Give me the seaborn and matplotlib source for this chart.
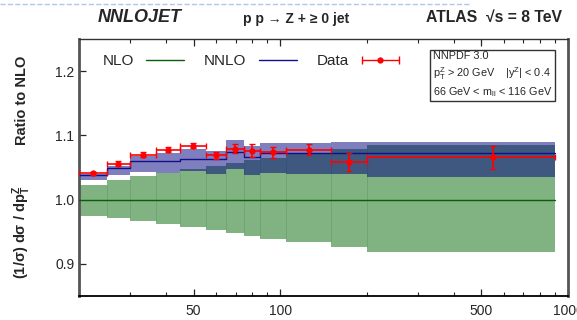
import numpy as np
import pandas as pd
import seaborn as sns
import matplotlib
matplotlib.use("Agg")
import matplotlib.pyplot as plt
from matplotlib.lines import Line2D
from matplotlib.legend_handler import HandlerErrorbar

# ===== data =====
bin_edges = [20, 25, 30, 37, 45, 55, 65, 75, 85, 105, 150, 200, 900]
nlo_central = [1.0] * 12
nlo_low = [0.975, 0.971, 0.966, 0.962, 0.957, 0.952, 0.948, 0.944, 0.939, 0.934, 0.926, 0.918]
nlo_high = [1.023, 1.031, 1.037, 1.041, 1.048, 1.053, 1.057, 1.061, 1.065, 1.072, 1.079, 1.085]
nnlo_central = [1.038, 1.050, 1.060, 1.060, 1.064, 1.063, 1.074, 1.066, 1.073, 1.072, 1.073, 1.072]
nnlo_low = [1.031, 1.039, 1.043, 1.041, 1.044, 1.040, 1.047, 1.039, 1.041, 1.040, 1.040, 1.036]
nnlo_high = [1.040, 1.052, 1.068, 1.072, 1.079, 1.076, 1.093, 1.083, 1.088, 1.088, 1.089, 1.089]
data_pt = [22.4, 27.4, 33.3, 40.9, 49.7, 60.0, 69.8, 79.8, 94.6, 125.5, 173.2, 550]
data_ratio = [1.041, 1.056, 1.070, 1.078, 1.084, 1.069, 1.079, 1.076, 1.0735, 1.078, 1.0585, 1.066]
data_err = [0.0026, 0.004, 0.004, 0.004, 0.004, 0.0057, 0.007, 0.010, 0.008, 0.0085, 0.0137, 0.018]
x_ticks = [50, 100, 500, 1000]
y_ticks = [0.9, 1.0, 1.1, 1.2]

sns.set_style("ticks")
plt.rcParams['font.family'] = ['Liberation Sans', 'DejaVu Sans']
plt.rcParams['mathtext.fontset'] = 'custom'
plt.rcParams['mathtext.rm'] = 'Liberation Sans'
plt.rcParams['mathtext.it'] = 'Liberation Sans:italic'
plt.rcParams['mathtext.bf'] = 'Liberation Sans:bold'

def stepped(vals):
    # repeat last value so steps-post covers the final bin
    return list(vals) + [vals[-1]]

steps = pd.DataFrame({
    'pt': bin_edges,
    'nlo': stepped(nlo_central), 'nlo_lo': stepped(nlo_low), 'nlo_hi': stepped(nlo_high),
    'nnlo': stepped(nnlo_central), 'nnlo_lo': stepped(nnlo_low), 'nnlo_hi': stepped(nnlo_high),
})
data = pd.DataFrame({'pt': data_pt, 'ratio': data_ratio, 'err': data_err})
xlo = np.array(data_pt) - np.array(bin_edges[:-1])
xhi = np.array(bin_edges[1:]) - np.array(data_pt)

fig = plt.figure(figsize=(5.77, 3.2), dpi=100)
ax = fig.add_axes([0.137, 0.075, 0.8475, 0.803])

# bands
ax.fill_between(steps.pt, steps.nlo_lo, steps.nlo_hi, step='post', color='#80b282', lw=0, zorder=1)
ax.vlines(bin_edges[1:-1], [max(a, b) for a, b in zip(nlo_low[:-1], nlo_low[1:])],
          [min(a, b) for a, b in zip(nlo_high[:-1], nlo_high[1:])], color='#5e9a60', lw=0.6, alpha=0.6, zorder=1.5)
ax.fill_between(steps.pt, steps.nnlo_lo, steps.nnlo_hi, step='post', color='#000080', alpha=0.5, lw=0, zorder=2)

# central lines
sns.lineplot(data=steps, x='pt', y='nlo', drawstyle='steps-post', color='#0a5e0a', lw=1.0,
             estimator=None, sort=False, ax=ax, zorder=3, label='NLO')
sns.lineplot(data=steps, x='pt', y='nnlo', drawstyle='steps-post', color='#10108a', lw=1.0,
             estimator=None, sort=False, ax=ax, zorder=3, label='NNLO')

# data
ax.errorbar(data.pt, data.ratio, yerr=data.err, xerr=[xlo, xhi], fmt='o', color='red', ms=3.5,
            elinewidth=1.2, capsize=2.5, capthick=1.0, zorder=5)
# legend entry for data: horizontal bar only, as in the reference key
data_key = ax.errorbar([np.nan], [np.nan], xerr=[[1], [1]], fmt='o', color='red', ms=3.5,
                       elinewidth=1.0, capsize=3, capthick=1.0, label='Data')

ax.set_xscale('log')
ax.set_xlim(20, 1000)
ax.set_ylim(0.85, 1.25)
ax.set_xticks(x_ticks)
ax.set_xticklabels([str(t) for t in x_ticks])
ax.set_yticks(y_ticks)
ax.set_yticklabels(['%.1f' % t for t in y_ticks])
ax.tick_params(axis='both', which='major', direction='in', labelsize=10, length=5, width=0.9, top=True, right=False)
ax.tick_params(axis='x', which='minor', direction='in', length=3, width=0.8, top=True)
ax.tick_params(axis='x', which='major', pad=6)
ax.set_xlabel('')
ax.set_ylabel('')
for side in ['left', 'right']:
    ax.spines[side].set_color('#555555')
    ax.spines[side].set_linewidth(2.0)
ax.spines['bottom'].set_linewidth(1.3)
ax.spines['bottom'].set_color('black')
ax.spines['top'].set_linewidth(1.0)
ax.spines['top'].set_color('#333333')

handles, labels = ax.get_legend_handles_labels()
ax.legend(handles, labels, loc='upper left', bbox_to_anchor=(0.02, 0.995), ncol=3, frameon=False,
          markerfirst=False, fontsize=11, handlelength=2.5, handletextpad=0.8, columnspacing=1.3,
          handler_map={data_key: HandlerErrorbar(xerr_size=1.2)})

ax.text(0.724, 0.952,
        'NNPDF 3.0\n' + r'p$_\mathrm{T}^\mathrm{Z}$ > 20 GeV    |y$^\mathrm{Z}$| < 0.4' + '\n'
        + r'66 GeV < m$_\mathrm{ll}$ < 116 GeV',
        transform=ax.transAxes, ha='left', va='top', fontsize=7.8, linespacing=1.3, zorder=6,
        bbox=dict(boxstyle='square,pad=0.25', fc='white', ec='#333333', lw=1.0))

# headings
fig.text(140 / 577, 1 - 17 / 320, 'NNLOJET', ha='center', va='center', fontsize=13,
         fontweight='bold', fontstyle='italic')
fig.text(296 / 577, 1 - 19 / 320, 'p p → Z + ≥ 0 jet', ha='center', va='center', fontsize=10, fontweight='bold')
fig.text(494 / 577, 1 - 17 / 320, 'ATLAS  √s = 8 TeV', ha='center', va='center', fontsize=11.3, fontweight='bold')
fig.text(22 / 577, 1 - 100 / 320, 'Ratio to NLO', rotation=90, ha='center', va='center', fontsize=10.5, fontweight='bold')
fig.text(22 / 577, 1 - 232 / 320, r'(1/σ) dσ / dp$_\mathbf{T}^\mathbf{Z}$', rotation=90, ha='center', va='center',
         fontsize=10.5, fontweight='bold')
fig.add_artist(Line2D([0, 470 / 577], [1 - 4 / 320] * 2, transform=fig.transFigure, ls='--',
                      color='#b0c8e8', lw=1.0))

fig.savefig('out.png', dpi=100)
